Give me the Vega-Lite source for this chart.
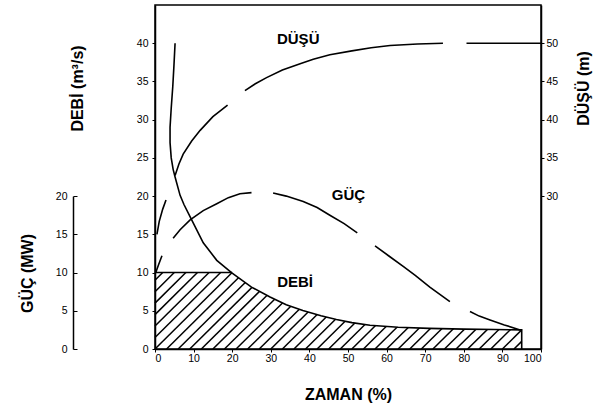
{
  "$schema": "https://vega.github.io/schema/vega-lite/v6.json",
  "width": 386,
  "height": 344,
  "autosize": "none",
  "padding": {"left": 155, "top": 5, "right": 54, "bottom": 54},
  "background": "white",
  "config": {
    "font": "Liberation Sans",
    "view": {"stroke": "black", "strokeWidth": 1.5},
    "axis": {
      "grid": false,
      "domainColor": "black",
      "domainWidth": 1.5,
      "tickColor": "black",
      "tickWidth": 1,
      "labelColor": "black",
      "labelFont": "Liberation Sans",
      "labelFontSize": 10.5,
      "titleFont": "Liberation Sans",
      "titleFontSize": 16,
      "titleFontWeight": "bold",
      "titleColor": "black"
    }
  },
  "datasets": {
    "hatch": [
      {"x": 93, "xe": 95, "y": 0, "ye": 1},
      {"x": 90, "xe": 95, "y": 0, "ye": 2.5},
      {"x": 87, "xe": 95, "y": 0, "ye": 4},
      {"x": 84, "xe": 95, "y": 0, "ye": 5.5},
      {"x": 81, "xe": 95, "y": 0, "ye": 7},
      {"x": 78, "xe": 95, "y": 0, "ye": 8.5},
      {"x": 75, "xe": 95, "y": 0, "ye": 10},
      {"x": 72, "xe": 92, "y": 0, "ye": 10},
      {"x": 69, "xe": 89, "y": 0, "ye": 10},
      {"x": 66, "xe": 86, "y": 0, "ye": 10},
      {"x": 63, "xe": 83, "y": 0, "ye": 10},
      {"x": 60, "xe": 80, "y": 0, "ye": 10},
      {"x": 57, "xe": 77, "y": 0, "ye": 10},
      {"x": 54, "xe": 74, "y": 0, "ye": 10},
      {"x": 51, "xe": 71, "y": 0, "ye": 10},
      {"x": 48, "xe": 68, "y": 0, "ye": 10},
      {"x": 45, "xe": 65, "y": 0, "ye": 10},
      {"x": 42, "xe": 62, "y": 0, "ye": 10},
      {"x": 39, "xe": 59, "y": 0, "ye": 10},
      {"x": 36, "xe": 56, "y": 0, "ye": 10},
      {"x": 33, "xe": 53, "y": 0, "ye": 10},
      {"x": 30, "xe": 50, "y": 0, "ye": 10},
      {"x": 27, "xe": 47, "y": 0, "ye": 10},
      {"x": 24, "xe": 44, "y": 0, "ye": 10},
      {"x": 21, "xe": 41, "y": 0, "ye": 10},
      {"x": 18, "xe": 38, "y": 0, "ye": 10},
      {"x": 15, "xe": 35, "y": 0, "ye": 10},
      {"x": 12, "xe": 32, "y": 0, "ye": 10},
      {"x": 9, "xe": 29, "y": 0, "ye": 10},
      {"x": 6, "xe": 26, "y": 0, "ye": 10},
      {"x": 3, "xe": 23, "y": 0, "ye": 10},
      {"x": 0, "xe": 20, "y": 0, "ye": 10},
      {"x": 0, "xe": 17, "y": 1.5, "ye": 10},
      {"x": 0, "xe": 14, "y": 3, "ye": 10},
      {"x": 0, "xe": 11, "y": 4.5, "ye": 10},
      {"x": 0, "xe": 8, "y": 6, "ye": 10},
      {"x": 0, "xe": 5, "y": 7.5, "ye": 10},
      {"x": 0, "xe": 2, "y": 9, "ye": 10}
    ],
    "mask": [
      {"x": 19.9, "y": 9.95}, {"x": 25, "y": 8.1}, {"x": 29.8, "y": 6.8},
      {"x": 34, "y": 5.8}, {"x": 38.3, "y": 5.05}, {"x": 43, "y": 4.35},
      {"x": 47, "y": 3.85}, {"x": 51, "y": 3.45}, {"x": 55.7, "y": 3.1},
      {"x": 63, "y": 2.85}, {"x": 71, "y": 2.7}, {"x": 80, "y": 2.6},
      {"x": 88, "y": 2.55}, {"x": 95, "y": 2.5}, {"x": 96.5, "y": 2.5}
    ],
    "debi": [
      {"o": 1, "x": 5.2, "y": 40},
      {"o": 2, "x": 4.9, "y": 37},
      {"o": 3, "x": 4.6, "y": 34.3},
      {"o": 4, "x": 4.2, "y": 31.5},
      {"o": 5, "x": 3.9, "y": 29},
      {"o": 6, "x": 3.9, "y": 27},
      {"o": 7, "x": 4.2, "y": 25},
      {"o": 8, "x": 4.7, "y": 23.5},
      {"o": 9, "x": 5.2, "y": 22.5},
      {"o": 10, "x": 6.5, "y": 20.1},
      {"o": 11, "x": 7.5, "y": 18.9},
      {"o": 12, "x": 9.6, "y": 16.8},
      {"o": 13, "x": 12.5, "y": 13.9},
      {"o": 14, "x": 16, "y": 11.6},
      {"o": 15, "x": 19.9, "y": 9.95},
      {"o": 16, "x": 25, "y": 8.1},
      {"o": 17, "x": 29.8, "y": 6.8},
      {"o": 18, "x": 34, "y": 5.8},
      {"o": 19, "x": 38.3, "y": 5.05},
      {"o": 20, "x": 43, "y": 4.35},
      {"o": 21, "x": 47, "y": 3.85},
      {"o": 22, "x": 51, "y": 3.45},
      {"o": 23, "x": 55.7, "y": 3.1},
      {"o": 24, "x": 63, "y": 2.85},
      {"o": 25, "x": 71, "y": 2.7},
      {"o": 26, "x": 80, "y": 2.6},
      {"o": 27, "x": 88, "y": 2.55},
      {"o": 28, "x": 95, "y": 2.5},
      {"o": 29, "x": 95, "y": 0}
    ],
    "top": [
      {"x": 0, "y": 10},
      {"x": 20, "y": 10}
    ],
    "labels": [
      {"x": 37.1, "y": 40.6, "label": "DÜŞÜ"},
      {"x": 50.1, "y": 20.1, "label": "GÜÇ"},
      {"x": 36.3, "y": 8.7, "label": "DEBİ"}
    ],
    "dusu": [
      {"seg": 1, "x": 5.2, "y": 32.7},
      {"seg": 1, "x": 6.2, "y": 34.2},
      {"seg": 1, "x": 7.3, "y": 35.5},
      {"seg": 1, "x": 9.5, "y": 37.2},
      {"seg": 1, "x": 11.7, "y": 38.6},
      {"seg": 1, "x": 15, "y": 40.4},
      {"seg": 1, "x": 18.8, "y": 41.9},
      {"seg": 2, "x": 23.3, "y": 43.8},
      {"seg": 2, "x": 26, "y": 44.7},
      {"seg": 2, "x": 28.9, "y": 45.5},
      {"seg": 2, "x": 33, "y": 46.5},
      {"seg": 2, "x": 37.6, "y": 47.3},
      {"seg": 2, "x": 41, "y": 47.9},
      {"seg": 2, "x": 45.3, "y": 48.5},
      {"seg": 2, "x": 51, "y": 49.0},
      {"seg": 2, "x": 56, "y": 49.4},
      {"seg": 2, "x": 60.9, "y": 49.7},
      {"seg": 2, "x": 68, "y": 49.9},
      {"seg": 2, "x": 74.6, "y": 50},
      {"seg": 3, "x": 80.7, "y": 50},
      {"seg": 3, "x": 90, "y": 50},
      {"seg": 3, "x": 100, "y": 50}
    ],
    "guc": [
      {"seg": 1, "x": 0.2, "y": 10},
      {"seg": 1, "x": 0.9, "y": 11},
      {"seg": 1, "x": 1.8, "y": 12.2},
      {"seg": 2, "x": 0.5, "y": 15},
      {"seg": 2, "x": 1.1, "y": 16.7},
      {"seg": 2, "x": 2.0, "y": 18.3},
      {"seg": 2, "x": 2.85, "y": 19.5},
      {"seg": 3, "x": 4.7, "y": 14.5},
      {"seg": 3, "x": 6.5, "y": 15.6},
      {"seg": 3, "x": 9.1, "y": 16.9},
      {"seg": 3, "x": 12.5, "y": 18.1},
      {"seg": 3, "x": 16, "y": 19.0},
      {"seg": 3, "x": 19, "y": 19.8},
      {"seg": 3, "x": 22, "y": 20.3},
      {"seg": 3, "x": 25, "y": 20.45},
      {"seg": 4, "x": 30.6, "y": 20.4},
      {"seg": 4, "x": 34, "y": 20.0},
      {"seg": 4, "x": 38.4, "y": 19.3},
      {"seg": 4, "x": 42, "y": 18.5},
      {"seg": 4, "x": 45.3, "y": 17.5},
      {"seg": 4, "x": 49, "y": 16.4},
      {"seg": 4, "x": 52.4, "y": 15.2},
      {"seg": 5, "x": 57, "y": 13.5},
      {"seg": 5, "x": 60.5, "y": 12.2},
      {"seg": 5, "x": 64.3, "y": 10.8},
      {"seg": 5, "x": 67.5, "y": 9.6},
      {"seg": 5, "x": 71.2, "y": 8.1},
      {"seg": 5, "x": 76.4, "y": 6.2},
      {"seg": 6, "x": 81.6, "y": 4.9},
      {"seg": 6, "x": 84, "y": 4.3},
      {"seg": 6, "x": 86.8, "y": 3.8},
      {"seg": 6, "x": 90.5, "y": 3.15},
      {"seg": 6, "x": 94.6, "y": 2.5}
    ]
  },
  "encoding": {
    "x": {
      "field": "x",
      "type": "quantitative",
      "title": "ZAMAN (%)",
      "scale": {"domain": [0, 100], "nice": false, "zero": false},
      "axis": {
        "values": [0, 10, 20, 30, 40, 50, 60, 70, 80, 90, 100],
        "tickSize": 3,
        "labelPadding": 1,
        "titleY": 50,
        "titleBaseline": "alphabetic"
      }
    }
  },
  "layer": [
    {
      "encoding": {
        "y": {
          "field": "y",
          "type": "quantitative",
          "title": "DEBİ (m³/s)",
          "scale": {"domain": [0, 45], "nice": false},
          "axis": {
            "values": [0, 5, 10, 15, 20, 25, 30, 35, 40],
            "tickSize": 3,
            "labelPadding": 4,
            "titleX": -73,
            "titleY": 83,
            "titleAngle": 270,
            "titleAlign": "center",
            "titleBaseline": "alphabetic"
          }
        }
      },
      "layer": [
        {
          "data": {"name": "hatch"},
          "mark": {"type": "rule", "stroke": "black", "strokeWidth": 1.5},
          "encoding": {
            "x2": {"field": "xe"},
            "y2": {"field": "ye"}
          }
        },
        {
          "data": {"name": "mask"},
          "mark": {"type": "area", "fill": "white", "opacity": 1},
          "encoding": {
            "y2": {"datum": 10.6}
          }
        },
        {
          "data": {"name": "debi"},
          "mark": {"type": "line", "stroke": "black", "strokeWidth": 1.6},
          "encoding": {
            "order": {"field": "o", "type": "quantitative"}
          }
        },
        {
          "data": {"name": "top"},
          "mark": {"type": "line", "stroke": "black", "strokeWidth": 1.6},
          "encoding": {}
        },
        {
          "data": {"name": "labels"},
          "mark": {"type": "text", "fontSize": 15, "fontWeight": "bold", "font": "Liberation Sans", "fill": "black", "align": "center", "baseline": "middle"},
          "encoding": {
            "text": {"field": "label", "type": "nominal"}
          }
        }
      ]
    },
    {
      "data": {"name": "dusu"},
      "mark": {"type": "line", "stroke": "black", "strokeWidth": 1.6},
      "encoding": {
        "detail": {"field": "seg", "type": "nominal"},
        "y": {
          "field": "y",
          "type": "quantitative",
          "title": "DÜŞÜ (m)",
          "scale": {"domain": [10, 55], "nice": false, "zero": false},
          "axis": {
            "orient": "right",
            "values": [30, 35, 40, 45, 50],
            "tickSize": 3,
            "labelPadding": 2,
            "titleX": 47,
            "titleY": 83,
            "titleAngle": 270,
            "titleAlign": "center",
            "titleBaseline": "alphabetic"
          }
        }
      }
    },
    {
      "data": {"name": "guc"},
      "mark": {"type": "line", "stroke": "black", "strokeWidth": 1.6},
      "encoding": {
        "detail": {"field": "seg", "type": "nominal"},
        "y": {
          "field": "y",
          "type": "quantitative",
          "title": "GÜÇ (MW)",
          "scale": {"domain": [0, 20], "range": [344, 191.11], "nice": false},
          "axis": {
            "orient": "left",
            "offset": 82,
            "values": [0, 5, 10, 15, 20],
            "tickSize": -4,
            "labelPadding": 10,
            "titleX": -41,
            "titleY": 268,
            "titleAngle": 270,
            "titleAlign": "center",
            "titleBaseline": "alphabetic"
          }
        }
      }
    }
  ],
  "resolve": {"scale": {"y": "independent"}, "axis": {"y": "independent"}}
}
